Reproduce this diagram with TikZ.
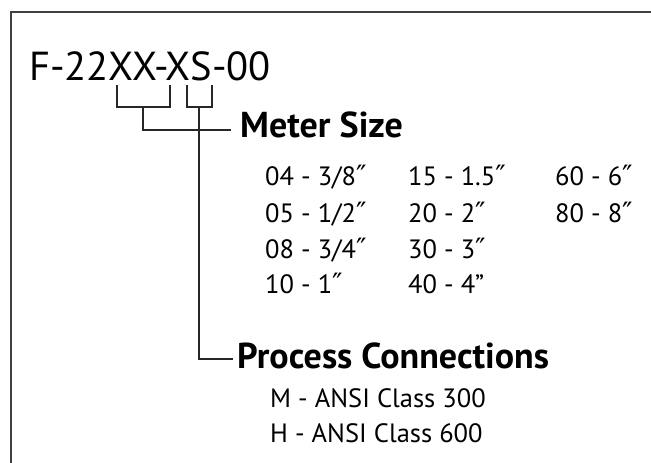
\documentclass[tikz,border=0pt]{standalone}
\usepackage{fontspec}
\setmainfont{PT Sans}
\newfontfamily\primefont{DejaVu Sans}
\newcommand\inchmark{{\primefont\fontsize{28}{28}\selectfont ″}}
\usetikzlibrary{positioning}

\begin{document}
\begin{tikzpicture}[x=1pt, y=-1pt,
  code/.style={anchor=base west, inner sep=0pt, font=\fontsize{40.5}{42}\selectfont},
  head/.style={anchor=base west, inner sep=0pt, font=\bfseries\fontsize{36}{38}\selectfont},
  size/.style={anchor=base west, inner sep=0pt, font=\fontsize{26.5}{28}\selectfont},
  brk/.style={draw=black!85, line width=1.6pt}]
\useasboundingbox (0,0) rectangle (651,463);
\draw[black!75, line width=1.5pt] (651,12) -- (11,12) -- (11,463);

\node[code] (code) at (29,80) {F-22XX-XS-00};

% bracket ends under the letters
\coordinate (xxl) at (117,85);
\coordinate (xxr) at (170,85);
\coordinate (xxm) at (143,107);
\coordinate (xsl) at (187,85);
\coordinate (xsr) at (212,85);
\coordinate (xsm) at (199,107);

\node[head] (msize) at (240,137) {Meter Size};
\node[head] (pconn) at (237,368) {Process Connections};

\draw[brk] (xxl) -- (xxl |- xxm) -- (xxr |- xxm) -- (xxr);
\draw[brk] (xsl) -- (xsl |- xsm) -- (xsr |- xsm) -- (xsr);
\draw[brk] (xxm) |- ([xshift=-9pt, yshift=7pt]msize.base west);
\draw[brk] (xsm) |- ([xshift=-4pt, yshift=9pt]pconn.base west);

\node[size] (s04) at (265,185) {04 - 3/8\inchmark};
\node[size] (s05) at (265,222) {05 - 1/2\inchmark};
\node[size] (s08) at (265,258) {08 - 3/4\inchmark};
\node[size] (s10) at (265,293) {10 - 1\inchmark};
\node[size] (s15) at (408,185) {15 - 1.5\inchmark};
\node[size] (s20) at (408,222) {20 - 2\inchmark};
\node[size] (s30) at (408,258) {30 - 3\inchmark};
\node[size] (s40) at (408,293) {40 - 4”};
\node[size] (s60) at (555,185) {60 - 6\inchmark};
\node[size] (s80) at (555,222) {80 - 8\inchmark};

\node[size] (pm) at (270,407) {M - ANSI Class 300};
\node[size] (ph) at (270,442) {H - ANSI Class 600};
\end{tikzpicture}
\end{document}
